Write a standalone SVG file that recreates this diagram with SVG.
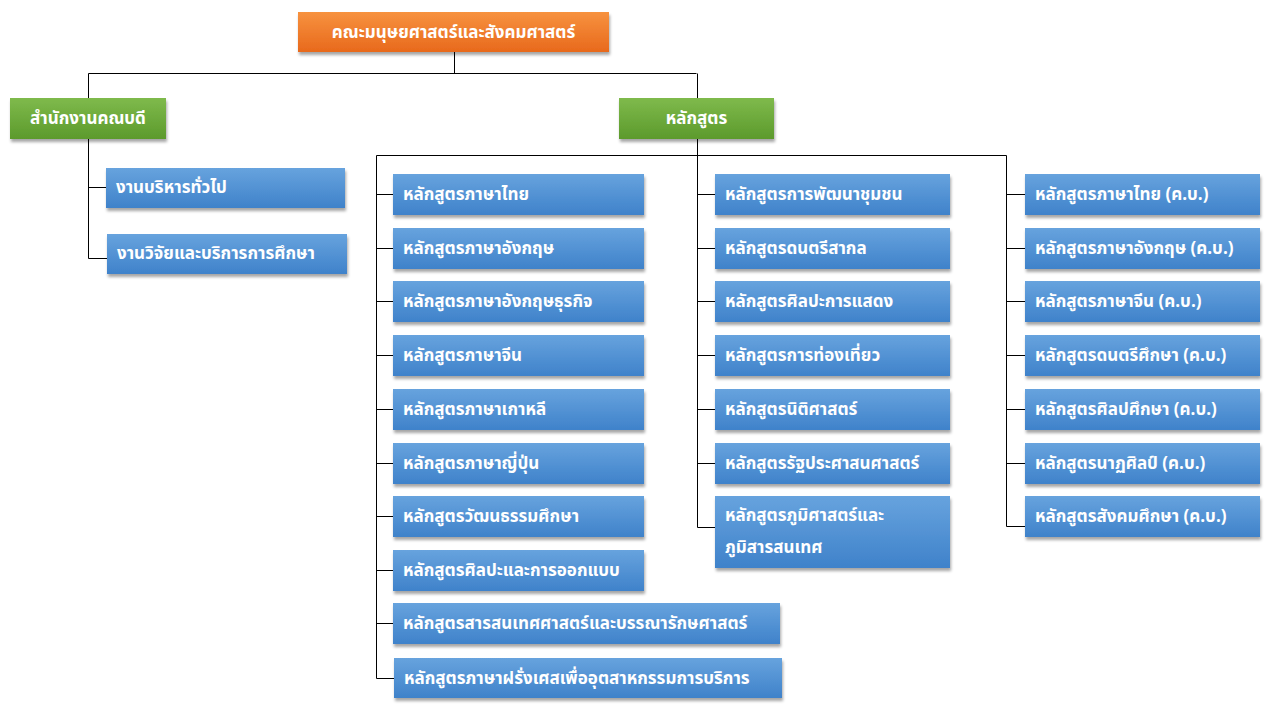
<svg xmlns="http://www.w3.org/2000/svg" width="1273" height="711" viewBox="0 0 1273 711">
<defs>
<linearGradient id="gBlue" x1="0" y1="0" x2="0" y2="1"><stop offset="0" stop-color="#67a3de"/><stop offset="1" stop-color="#3f82ca"/></linearGradient>
<linearGradient id="gGreen" x1="0" y1="0" x2="0" y2="1"><stop offset="0" stop-color="#7fba4c"/><stop offset="1" stop-color="#5c9a2c"/></linearGradient>
<linearGradient id="gOrange" x1="0" y1="0" x2="0" y2="1"><stop offset="0" stop-color="#f7923f"/><stop offset="1" stop-color="#e8691c"/></linearGradient>
<filter id="sh" x="-10%" y="-20%" width="120%" height="150%"><feDropShadow dx="1" dy="3" stdDeviation="1.8" flood-color="#000" flood-opacity="0.35"/></filter>
<style>
.b{fill:url(#gBlue);filter:url(#sh)}
.g{fill:url(#gGreen);filter:url(#sh)}
.o{fill:url(#gOrange);filter:url(#sh)}
text{font-family:"Leelawadee UI","Tahoma","Noto Sans Thai","Noto Sans Thai UI","Loma","Garuda","DejaVu Sans",sans-serif;font-weight:bold;font-size:17px;fill:#fff}
.c{text-anchor:middle}
#connectors path{fill:none;stroke:#000;stroke-width:1}
</style>
</defs>
<g id="connectors">
<path d="M454.5 52V73.5M88.5 73.5H696.5M88.5 73.5V98M697.5 73.5V98"/>
<path d="M88.5 139V258.5M88.5 187.5H106M88.5 258.5H107"/>
<path d="M697.5 139V527.5M376.5 155.5H1006.5M376.5 155.5V678.5M1006.5 155.5V526.5"/>
<path d="M376.5 194.5H393M376.5 248.5H393M376.5 301.5H393M376.5 355.5H393M376.5 409.5H393M376.5 463.5H393M376.5 516.5H393M376.5 570.5H393M376.5 623.5H393M376.5 678.5H394"/>
<path d="M697.5 194.5H715M697.5 248.5H715M697.5 301.5H715M697.5 355.5H715M697.5 409.5H715M697.5 463.5H715M697.5 527.5H715"/>
<path d="M1006.5 194.5H1025M1006.5 248.5H1025M1006.5 301.5H1025M1006.5 355.5H1025M1006.5 409.5H1025M1006.5 463.5H1025M1006.5 526.5H1025"/>
</g>
<g id="n-faculty"><rect class="o" x="298" y="12" width="311" height="40"/><text class="c" x="453.5" y="38">คณะมนุษยศาสตร์และสังคมศาสตร์</text></g>
<g id="n-office"><rect class="g" x="10" y="98" width="156" height="41"/><text class="c" x="88" y="124">สำนักงานคณบดี</text></g>
<g id="n-curr"><rect class="g" x="619" y="98" width="155" height="41"/><text class="c" x="696.5" y="124">หลักสูตร</text></g>
<g id="n-admin"><rect class="b" x="106" y="168" width="239" height="40"/><text x="116" y="193">งานบริหารทั่วไป</text></g>
<g id="n-research"><rect class="b" x="107" y="234" width="240" height="40"/><text x="117" y="259">งานวิจัยและบริการการศึกษา</text></g>

<g id="c1-1"><rect class="b" x="393" y="174" width="251" height="41"/><text x="403" y="200">หลักสูตรภาษาไทย</text></g>
<g id="c1-2"><rect class="b" x="393" y="228" width="251" height="41"/><text x="403" y="254">หลักสูตรภาษาอังกฤษ</text></g>
<g id="c1-3"><rect class="b" x="393" y="281" width="251" height="41"/><text x="403" y="307">หลักสูตรภาษาอังกฤษธุรกิจ</text></g>
<g id="c1-4"><rect class="b" x="393" y="335" width="251" height="41"/><text x="403" y="361">หลักสูตรภาษาจีน</text></g>
<g id="c1-5"><rect class="b" x="393" y="389" width="251" height="41"/><text x="403" y="415">หลักสูตรภาษาเกาหลี</text></g>
<g id="c1-6"><rect class="b" x="393" y="443" width="251" height="41"/><text x="403" y="469">หลักสูตรภาษาญี่ปุ่น</text></g>
<g id="c1-7"><rect class="b" x="393" y="496" width="251" height="41"/><text x="403" y="522">หลักสูตรวัฒนธรรมศึกษา</text></g>
<g id="c1-8"><rect class="b" x="393" y="550" width="251" height="41"/><text x="403" y="576">หลักสูตรศิลปะและการออกแบบ</text></g>
<g id="c1-9"><rect class="b" x="393" y="603" width="387" height="41"/><text x="403" y="629">หลักสูตรสารสนเทศศาสตร์และบรรณารักษศาสตร์</text></g>
<g id="c1-10"><rect class="b" x="394" y="658" width="388" height="40"/><text x="404" y="684">หลักสูตรภาษาฝรั่งเศสเพื่ออุตสาหกรรมการบริการ</text></g>

<g id="c2-1"><rect class="b" x="715" y="174" width="235" height="41"/><text x="725" y="200">หลักสูตรการพัฒนาชุมชน</text></g>
<g id="c2-2"><rect class="b" x="715" y="228" width="235" height="41"/><text x="725" y="254">หลักสูตรดนตรีสากล</text></g>
<g id="c2-3"><rect class="b" x="715" y="281" width="235" height="41"/><text x="725" y="307">หลักสูตรศิลปะการแสดง</text></g>
<g id="c2-4"><rect class="b" x="715" y="335" width="235" height="41"/><text x="725" y="361">หลักสูตรการท่องเที่ยว</text></g>
<g id="c2-5"><rect class="b" x="715" y="389" width="235" height="41"/><text x="725" y="415">หลักสูตรนิติศาสตร์</text></g>
<g id="c2-6"><rect class="b" x="715" y="443" width="235" height="41"/><text x="725" y="469">หลักสูตรรัฐประศาสนศาสตร์</text></g>
<g id="c2-7"><rect class="b" x="715" y="496" width="235" height="72"/><text x="725" y="521">หลักสูตรภูมิศาสตร์และ</text><text x="725" y="553">ภูมิสารสนเทศ</text></g>

<g id="c3-1"><rect class="b" x="1025" y="174" width="235" height="41"/><text x="1035" y="200">หลักสูตรภาษาไทย (ค.บ.)</text></g>
<g id="c3-2"><rect class="b" x="1025" y="228" width="235" height="41"/><text x="1035" y="254">หลักสูตรภาษาอังกฤษ (ค.บ.)</text></g>
<g id="c3-3"><rect class="b" x="1025" y="281" width="235" height="41"/><text x="1035" y="307">หลักสูตรภาษาจีน (ค.บ.)</text></g>
<g id="c3-4"><rect class="b" x="1025" y="335" width="235" height="41"/><text x="1035" y="361">หลักสูตรดนตรีศึกษา (ค.บ.)</text></g>
<g id="c3-5"><rect class="b" x="1025" y="389" width="235" height="41"/><text x="1035" y="415">หลักสูตรศิลปศึกษา (ค.บ.)</text></g>
<g id="c3-6"><rect class="b" x="1025" y="443" width="235" height="41"/><text x="1035" y="469">หลักสูตรนาฏศิลป์ (ค.บ.)</text></g>
<g id="c3-7"><rect class="b" x="1025" y="496" width="235" height="41"/><text x="1035" y="522">หลักสูตรสังคมศึกษา (ค.บ.)</text></g>
</svg>
